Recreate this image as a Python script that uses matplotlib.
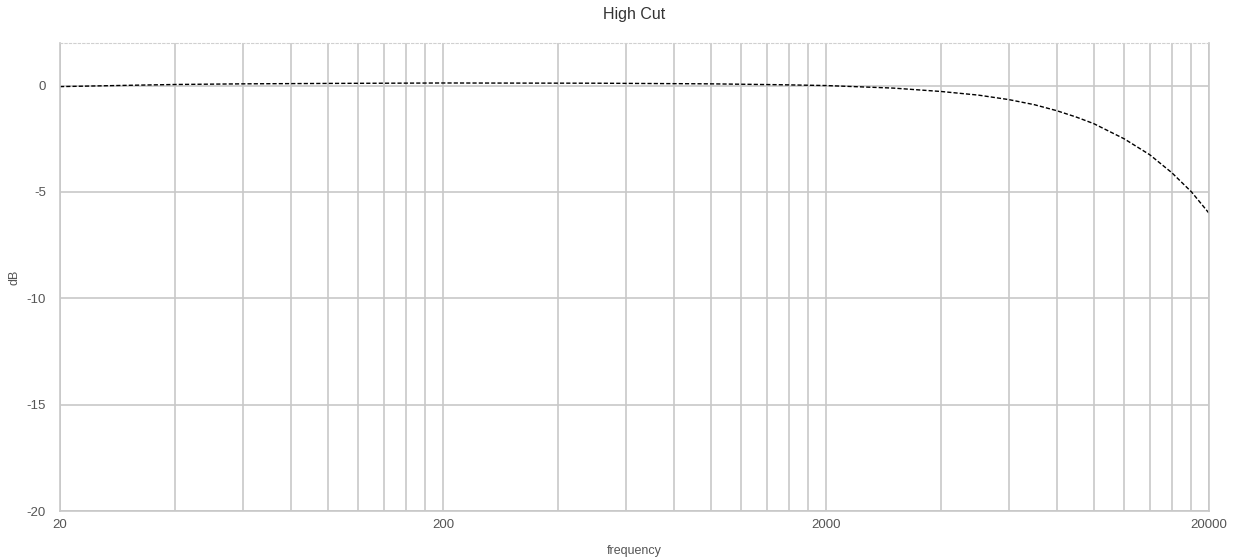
import matplotlib.pyplot as plt
from matplotlib.ticker import FixedLocator, NullFormatter

plt.rcParams['font.family'] = ['Liberation Sans', 'DejaVu Sans']
plt.rcParams['axes.unicode_minus'] = False

# values (frequency in Hz, gain in dB)
freq = [20, 30, 40, 60, 100, 200, 500, 1000, 1500, 2000, 3000, 4000, 5000,
        6000, 7000, 8000, 9000, 10000, 12000, 14000, 16000, 18000, 20000]
gain = [-0.05, 0.01, 0.05, 0.08, 0.10, 0.12, 0.11, 0.08, 0.04, 0.0, -0.12,
        -0.28, -0.45, -0.66, -0.90, -1.18, -1.48, -1.79, -2.50, -3.25,
        -4.10, -5.00, -6.00]

x_major = [20, 200, 2000, 20000]
x_minor = [m * d for d in (20, 200, 2000) for m in range(2, 10)]
y_ticks = [0, -5, -10, -15, -20]

grid_col = "#c8c8c8"
text_col = "#555555"

fig = plt.figure(figsize=(12.39, 5.6), dpi=100)
ax = fig.add_axes([60 / 1239, 1 - 511 / 560, 1149 / 1239, 468 / 560])

ax.plot(freq, gain, color="black", linestyle=(0, (3, 1.5)), linewidth=1.0)

ax.set_xscale("log")
ax.set_xlim(20, 20000)
ax.set_ylim(-20, 2)

ax.xaxis.set_major_locator(FixedLocator(x_major))
ax.xaxis.set_minor_locator(FixedLocator(x_minor))
ax.xaxis.set_minor_formatter(NullFormatter())
ax.set_xticklabels([str(v) for v in x_major])
ax.set_yticks(y_ticks)

ax.grid(True, which="both", color=grid_col, linewidth=1.2)
ax.set_axisbelow(True)
ax.tick_params(which="both", length=0, colors=text_col, labelsize=9.5, pad=10)
ax.tick_params(axis="x", pad=6)

for s in ("left", "right", "bottom"):
    ax.spines[s].set_color(grid_col)
    ax.spines[s].set_linewidth(1.2)
ax.spines["top"].set_color("#d0d0d0")
ax.spines["top"].set_linestyle((0, (2, 2)))
ax.spines["top"].set_linewidth(0.8)

ax.set_title("High Cut", color="#333333", fontsize=11.5, pad=17)
ax.set_xlabel("frequency", color=text_col, fontsize=9, labelpad=10)
ax.set_ylabel("dB", color=text_col, fontsize=9)
ax.yaxis.set_label_coords(-40 / 1149, 0.5)

plt.savefig("out.png", dpi=100)
